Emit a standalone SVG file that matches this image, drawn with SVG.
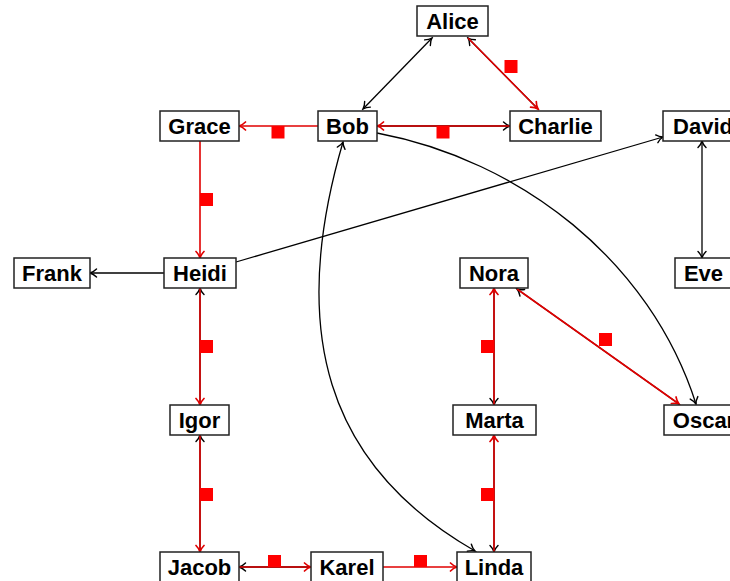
<svg xmlns="http://www.w3.org/2000/svg" width="730" height="581" viewBox="0 0 730 581">
  <style>
    .box { fill: #fff; stroke: #222; stroke-width: 1.5; }
    .lbl { font-family: "Liberation Sans", Arial, sans-serif; font-weight: bold; font-size: 22px; text-anchor: middle; fill: #000; }
    .blk { fill: none; stroke: #000; stroke-width: 1.3; }
    .red { fill: none; stroke: #e00000; stroke-width: 1.6; }
    .tag { fill: #ff0000; }
  </style>
  <defs>
    <marker id="tipK" viewBox="-8 -5 10 10" refX="0" refY="0" markerWidth="10" markerHeight="10" markerUnits="userSpaceOnUse" orient="auto-start-reverse">
      <path d="M-6.5,-4 C-4,-1.5 -1.5,-0.4 0,0 C-1.5,0.4 -4,1.5 -6.5,4" fill="none" stroke="#000" stroke-width="1.4" stroke-linecap="round"/>
    </marker>
    <marker id="tipR" viewBox="-8 -5 10 10" refX="0" refY="0" markerWidth="10" markerHeight="10" markerUnits="userSpaceOnUse" orient="auto-start-reverse">
      <path d="M-6.5,-4 C-4,-1.5 -1.5,-0.4 0,0 C-1.5,0.4 -4,1.5 -6.5,4" fill="none" stroke="#e00000" stroke-width="1.7" stroke-linecap="round"/>
    </marker>
  </defs>

  <g id="connectors">
    <!-- black edges (drawn first, red ones lie on top) -->
    <line class="blk" x1="432" y1="38" x2="363" y2="109" marker-start="url(#tipK)" marker-end="url(#tipK)"/>
    <line class="blk" x1="538" y1="109" x2="468" y2="38" marker-end="url(#tipK)"/>
    <line class="blk" x1="377" y1="126" x2="510" y2="126" marker-end="url(#tipK)"/>
    <line class="blk" x1="200" y1="405" x2="200" y2="288" marker-end="url(#tipK)"/>
    <line class="blk" x1="200" y1="552" x2="200" y2="435" marker-end="url(#tipK)"/>
    <line class="blk" x1="311" y1="567" x2="239" y2="567" marker-end="url(#tipK)"/>
    <line class="blk" x1="494" y1="435" x2="494" y2="552" marker-end="url(#tipK)"/>
    <line class="blk" x1="494" y1="288" x2="494" y2="405" marker-end="url(#tipK)"/>
    <line class="blk" x1="679" y1="404" x2="517" y2="289" marker-end="url(#tipK)"/>
    <line class="blk" x1="164" y1="273" x2="90" y2="273" marker-end="url(#tipK)"/>
    <line class="blk" x1="236" y1="262" x2="663" y2="137" marker-end="url(#tipK)"/>
    <line class="blk" x1="702" y1="141" x2="702" y2="258" marker-start="url(#tipK)" marker-end="url(#tipK)"/>
    <path class="blk" d="M377,133 C520,160 650,260 696,404" marker-end="url(#tipK)"/>
    <path class="blk" d="M343,142 C288,330 325,465 475,551" marker-start="url(#tipK)" marker-end="url(#tipK)"/>

    <!-- red edges -->
    <line class="red" x1="468" y1="38" x2="538" y2="109" marker-end="url(#tipR)"/>
    <line class="red" x1="510" y1="126" x2="377" y2="126" marker-end="url(#tipR)"/>
    <line class="red" x1="318" y1="126" x2="239" y2="126" marker-end="url(#tipR)"/>
    <line class="red" x1="200" y1="141" x2="200" y2="258" marker-end="url(#tipR)"/>
    <line class="red" x1="200" y1="288" x2="200" y2="405" marker-end="url(#tipR)"/>
    <line class="red" x1="200" y1="435" x2="200" y2="552" marker-end="url(#tipR)"/>
    <line class="red" x1="239" y1="567" x2="311" y2="567" marker-end="url(#tipR)"/>
    <line class="red" x1="383" y1="567" x2="457" y2="567" marker-end="url(#tipR)"/>
    <line class="red" x1="494" y1="552" x2="494" y2="435" marker-end="url(#tipR)"/>
    <line class="red" x1="494" y1="405" x2="494" y2="288" marker-end="url(#tipR)"/>
    <line class="red" x1="517" y1="289" x2="679" y2="404" marker-end="url(#tipR)"/>

    <!-- edge tags -->
    <rect class="tag" x="504.5" y="60" width="13" height="13"/>
    <rect class="tag" x="436.5" y="126" width="13" height="12.5"/>
    <rect class="tag" x="271.5" y="126" width="13" height="12.5"/>
    <rect class="tag" x="200" y="193" width="13" height="13"/>
    <rect class="tag" x="200" y="340" width="13" height="13"/>
    <rect class="tag" x="200" y="488" width="13" height="13"/>
    <rect class="tag" x="268" y="555" width="13" height="12"/>
    <rect class="tag" x="414" y="555" width="13" height="12"/>
    <rect class="tag" x="481" y="488" width="13" height="13"/>
    <rect class="tag" x="481" y="340" width="13" height="13"/>
    <rect class="tag" x="599" y="333" width="13" height="13"/>
  </g>

  <g id="alice"><rect class="box" x="417" y="6" width="71" height="30"/><text class="lbl" x="452.5" y="29">Alice</text></g>
  <g id="bob"><rect class="box" x="318" y="111" width="59" height="30"/><text class="lbl" x="347.5" y="134">Bob</text></g>
  <g id="charlie"><rect class="box" x="510" y="111" width="91" height="30"/><text class="lbl" x="555.5" y="134">Charlie</text></g>
  <g id="grace"><rect class="box" x="160" y="111" width="79" height="30"/><text class="lbl" x="199.5" y="134">Grace</text></g>
  <g id="david"><rect class="box" x="663" y="111" width="80" height="30"/><text class="lbl" x="703" y="134">David</text></g>
  <g id="frank"><rect class="box" x="14" y="258" width="76" height="30"/><text class="lbl" x="52" y="281">Frank</text></g>
  <g id="heidi"><rect class="box" x="164" y="258" width="72" height="30"/><text class="lbl" x="200" y="281">Heidi</text></g>
  <g id="nora"><rect class="box" x="460" y="258" width="68" height="30"/><text class="lbl" x="494" y="281">Nora</text></g>
  <g id="eve"><rect class="box" x="675" y="258" width="57" height="30"/><text class="lbl" x="703.5" y="281">Eve</text></g>
  <g id="igor"><rect class="box" x="170" y="405" width="59" height="30"/><text class="lbl" x="199.5" y="428">Igor</text></g>
  <g id="marta"><rect class="box" x="453" y="405" width="83" height="30"/><text class="lbl" x="494.5" y="428">Marta</text></g>
  <g id="oscar"><rect class="box" x="664" y="405" width="80" height="30"/><text class="lbl" x="704" y="428">Oscar</text></g>
  <g id="jacob"><rect class="box" x="160" y="552" width="79" height="30"/><text class="lbl" x="199.5" y="575">Jacob</text></g>
  <g id="karel"><rect class="box" x="311" y="552" width="72" height="30"/><text class="lbl" x="347" y="575">Karel</text></g>
  <g id="linda"><rect class="box" x="457" y="552" width="74" height="30"/><text class="lbl" x="494" y="575">Linda</text></g>
</svg>
